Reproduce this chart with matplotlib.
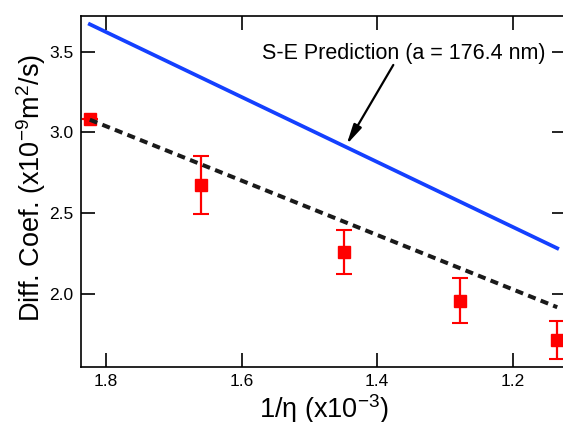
#!/usr/bin/env python

import matplotlib
matplotlib.use('Agg')
import matplotlib.pyplot as plt


# Measured diffusion coefficients (x1e-9 m^2/s) vs 1/eta (x1e-3)
inv_eta = [1.824, 1.660, 1.449, 1.278, 1.135]
diff_coef = [3.083, 2.675, 2.260, 1.959, 1.717]
diff_err = [0.0, 0.178, 0.137, 0.137, 0.118]

# Stokes-Einstein prediction line end points
se_x = [1.824, 1.134]
se_y = [3.670, 2.283]

# Linear fit of the measured points (dashed)
fit_x = [1.824, 1.134]
fit_y = [3.079, 1.918]

x_ticks = [1.8, 1.6, 1.4, 1.2]
y_ticks = [2.0, 2.5, 3.0, 3.5]

SE_LABEL = 'S-E Prediction (a = 176.4 nm)'


def setup_fonts():
    '''
    Arial-like fonts everywhere, also inside mathtext superscripts.
    '''
    plt.rcParams['font.family'] = ['Liberation Sans', 'DejaVu Sans']
    plt.rcParams['mathtext.fontset'] = 'custom'
    plt.rcParams['mathtext.rm'] = 'Liberation Sans'
    plt.rcParams['mathtext.it'] = 'Liberation Sans:italic'
    plt.rcParams['mathtext.default'] = 'rm'


def style_axes(ax):
    '''
    Igor-like box with inward ticks on all four sides.
    '''
    for spine in ax.spines.values():
        spine.set_linewidth(1.2)
    ax.set_xlim(1.837, 1.121)
    ax.set_ylim(1.546, 3.723)
    ax.set_xticks(x_ticks)
    ax.set_yticks(y_ticks)
    ax.set_xticklabels(['%.1f' % t for t in x_ticks])
    ax.set_yticklabels(['%.1f' % t for t in y_ticks])
    ax.tick_params(direction='in', length=10, width=1.2, top=True, right=True,
                   labelsize=12.5, colors='black')
    ax.tick_params(axis='x', pad=5)
    ax.tick_params(axis='y', pad=5.5)
    ax.set_xlabel('1/η (x10$^{-3}$)', fontsize=19.5)
    ax.set_ylabel('Diff. Coef. (x10$^{-9}$m$^{2}$/s)', fontsize=19.5)
    ax.xaxis.set_label_coords(0.5, -0.07)
    ax.yaxis.set_label_coords(-0.068, 0.511)
    return ax


if __name__ == '__main__':
    setup_fonts()
    fig = plt.figure(figsize=(5.63, 4.22), dpi=100)
    ax = fig.add_axes([0.1439, 0.1296, 0.8615, 0.8332])

    ax.errorbar(inv_eta, diff_coef, yerr=diff_err, fmt='s', color='#ff0000',
                ms=9, capsize=5.5, elinewidth=1.6, capthick=1.5, zorder=2)
    ax.plot(se_x, se_y, '-', color='#1440ff', linewidth=2.7, zorder=3)
    ax.plot(fit_x, fit_y, color='#1a1a1a', linewidth=2.9,
            linestyle=(0, (2.0, 1.35)), zorder=3)

    ax.text(1.5698, 3.49, SE_LABEL, fontsize=15.5, ha='left', va='center')
    ax.annotate('', xy=(1.445, 2.925), xytext=(1.376, 3.418),
                arrowprops=dict(arrowstyle='-|>,head_length=1.0,head_width=0.22',
                                color='black', lw=1.6, mutation_scale=12,
                                shrinkA=0, shrinkB=0))

    style_axes(ax)
    fig.savefig('out.png', dpi=100)
    plt.close(fig)
